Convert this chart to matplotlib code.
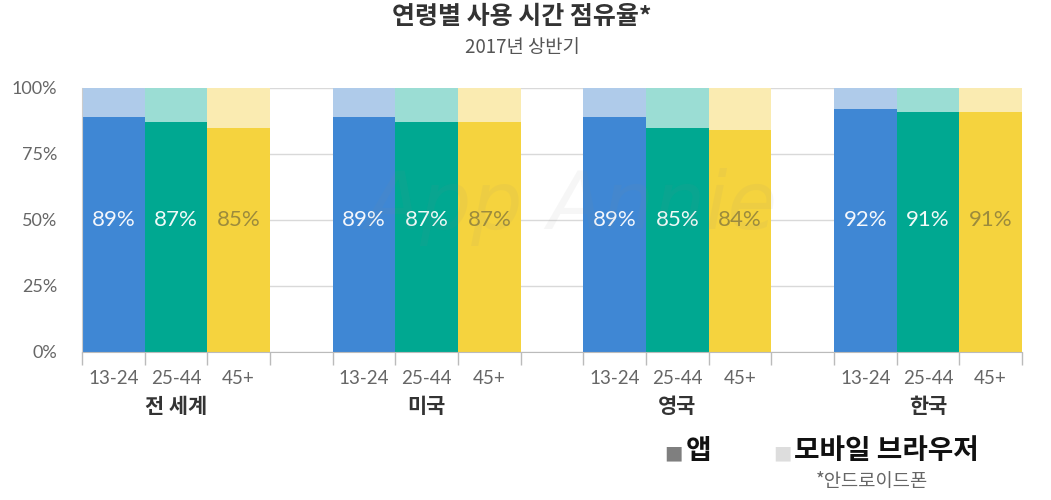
import matplotlib
matplotlib.use("Agg")
import matplotlib.pyplot as plt
import numpy as np

plt.rcParams['font.family'] = ['Noto Sans CJK KR', 'DejaVu Sans']

groups = ["전 세계", "미국", "영국", "한국"]
ages = ["13-24", "25-44", "45+"]
app_share = [
    [89, 87, 85],
    [89, 87, 87],
    [89, 85, 84],
    [92, 91, 91],
]
title = "연령별 사용 시간 점유율*"
subtitle = "2017년 상반기"
legend_labels = ["앱", "모바일 브라우저"]
footnote = "*안드로이드폰"

dark_colors = ["#3F87D4", "#00A891", "#F5D33E"]
light_colors = ["#AFCBEA", "#9BDDD4", "#FAEBB1"]
label_colors = ["#F4F7FC", "#F0FAF8", "#9C8B3C"]

fig = plt.figure(figsize=(10.51, 5.0), dpi=100)
ax = fig.add_axes([82/1051, 1-352/500, (1022-82)/1051, (352-88)/500])

xpos = []
for g in range(len(groups)):
    for a in range(len(ages)):
        x = g * 4 + a
        xpos.append(x)
        v = app_share[g][a]
        ax.bar(x, v, width=1.0, color=dark_colors[a], zorder=2, linewidth=0)
        ax.bar(x, 100 - v, bottom=v, width=1.0, color=light_colors[a], zorder=2, linewidth=0)
        ax.text(x, 50, f"{v}%", ha='center', va='center', color=label_colors[a],
                fontsize=16, fontweight='normal', zorder=4, family=['Lato', 'DejaVu Sans'])

ax.set_xlim(-0.5, 14.5)
ax.set_ylim(0, 100)
ax.set_yticks([0, 25, 50, 75, 100])
ax.set_yticklabels(["0%", "25%", "50%", "75%", "100%"], fontsize=13, color="#666666",
                   family=['Lato', 'DejaVu Sans'])
ax.yaxis.grid(True, color="#D9D9D9", linewidth=1, zorder=0)
ax.tick_params(axis='y', length=0, pad=18)

ax.set_xticks(np.arange(-0.5, 15, 1.0))
ax.set_xticklabels([])
ax.tick_params(axis='x', length=9, color="#BBBBBB", width=1)

for s in ["top", "right"]:
    ax.spines[s].set_visible(False)
ax.spines["left"].set_color("#CCCCCC")
ax.spines["bottom"].set_color("#BBBBBB")

for x, lab in zip(xpos, ages * len(groups)):
    ax.text(x, -10, lab, ha='center', va='center', fontsize=13.5, color="#666666",
            transform=ax.transData, clip_on=False, family=['Lato', 'DejaVu Sans'])
for g, name in enumerate(groups):
    ax.text(g * 4 + 1, -20.5, name, ha='center', va='center', fontsize=15,
            fontweight='bold', color="#333333", clip_on=False)

# watermark
ax.text(7.3, 55, "App Annie", ha='center', va='center', fontsize=58, style='italic',
        color='#888888', alpha=0.07, zorder=5, family=['DejaVu Sans'])

fig.text(522/1051, 1-17/500, title, ha='center', va='center', fontsize=18,
         fontweight='bold', color="#333333")
fig.text(522/1051, 1-48/500, subtitle, ha='center', va='center', fontsize=13.5, color="#555555")

# legend
fig.text(673/1051, 1-453/500, "■", ha='center', va='center', fontsize=14, color="#7F7F7F",
         family=['DejaVu Sans'])
fig.text(686/1051, 1-451/500, legend_labels[0], ha='left', va='center', fontsize=20,
         fontweight='bold', color="#111111")
fig.text(782/1051, 1-453/500, "■", ha='center', va='center', fontsize=14, color="#DDDDDD",
         family=['DejaVu Sans'])
fig.text(794/1051, 1-451/500, legend_labels[1], ha='left', va='center', fontsize=20,
         fontweight='bold', color="#111111")
fig.text(872/1051, 1-481/500, footnote, ha='center', va='center', fontsize=13.5, color="#666666")

fig.savefig("out.png", dpi=100)
